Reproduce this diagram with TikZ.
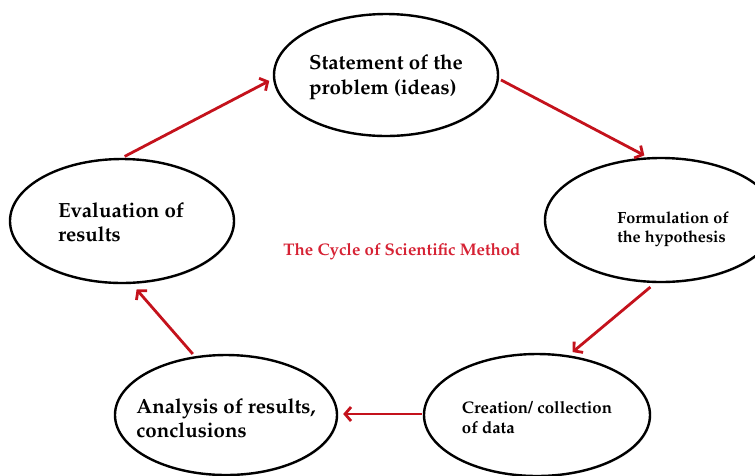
\documentclass[tikz,border=0pt]{standalone}
\usepackage[T1]{fontenc}
\usepackage{mathpazo}
\usetikzlibrary{shapes.geometric,arrows.meta,shadows}
\definecolor{arrowred}{RGB}{196,18,28}
\definecolor{titlered}{RGB}{214,34,52}
\tikzset{
  oval/.style={ellipse, draw=black, line width=2.4pt, fill=white, inner sep=0pt,
    drop shadow={opacity=0.25, shadow xshift=1.2pt, shadow yshift=-1.2pt}},
  bigtxt/.style={align=left, font=\fontsize{20.5}{24.5}\selectfont\bfseries, inner sep=0pt},
  smalltxt/.style={align=left, font=\fontsize{16.2}{19.5}\selectfont\bfseries, inner sep=0pt},
  cyc/.style={draw=arrowred, line width=2.8pt, -{Straight Barb[length=6pt,width=14pt]}}
}
\begin{document}
\begin{tikzpicture}[x=1pt,y=-1pt]
\useasboundingbox (0,0) rectangle (755,475);
\begin{scope}
\clip (0,0) rectangle (755,475);
\node[oval, minimum width=224pt, minimum height=122pt] (stmt) at (386,75) {};
\node[oval, minimum width=232pt, minimum height=124pt] (form) at (661,220) {};
\node[oval, minimum width=224pt, minimum height=124pt] (eval) at (122,221) {};
\node[oval, minimum width=222pt, minimum height=120pt] (anal) at (226,415) {};
\node[oval, minimum width=226pt, minimum height=122pt] (creat) at (537,415) {};
\end{scope}

\node[bigtxt] (tstmt) at (386,77) {Statement of the\\problem (ideas)};
\node[bigtxt] (teval) at (121,222) {Evaluation of\\results};
\node[smalltxt] (tform) at (673,229) {Formulation of\\the hypothesis};
\node[bigtxt] (tanal) at (226,418) {Analysis of results,\\conclusions};
\node[smalltxt, font=\fontsize{16.8}{20}\selectfont\bfseries] (tcreat) at (537,418) {Creation/ collection\\of data};

\node[text=titlered, font=\fontsize{16.8}{20}\selectfont\bfseries] (title) at (402,252) {The Cycle of Scientific Method};

\draw[cyc, shorten <=3pt, shorten >=4pt] (eval.north) -- ([yshift=-4pt]stmt.west);
\draw[cyc, shorten <=2pt, shorten >=3pt] ([yshift=-4pt]stmt.east) -- ([xshift=-14pt]form.north);
\draw[cyc, shorten <=6pt, shorten >=5pt] ([xshift=-6pt]form.south) -- (creat.62);
\draw[cyc, shorten <=1pt, shorten >=5pt] ([yshift=1pt]creat.west) -- ([yshift=1pt]anal.east);
\draw[cyc, shorten <=3pt, shorten >=7pt] (anal.118) -- ([xshift=10pt]eval.south);
\end{tikzpicture}
\end{document}
